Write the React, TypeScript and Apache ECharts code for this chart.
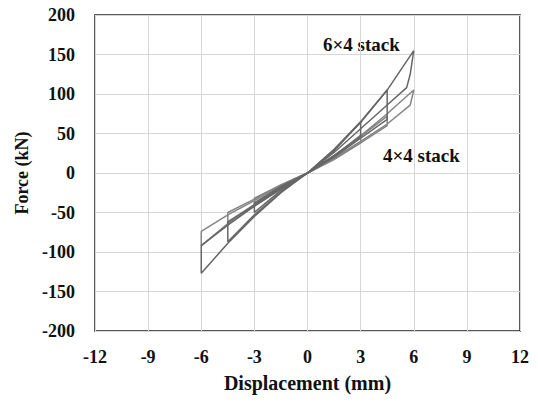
import React, { useEffect, useRef } from "react";
import * as echarts from "echarts";

const xTicks = [-12, -9, -6, -3, 0, 3, 6, 9, 12];
const yTicks = [-200, -150, -100, -50, 0, 50, 100, 150, 200];

// 6x4 stack loops (displacement mm, force kN)
const s64_a3 = [[0, 0], [1.5, 28], [3, 65], [3, 46], [1.5, 22], [0, 0], [-1.5, -22], [-3, -50], [-3, -38], [-1.5, -17], [0, 0]];
const s64_a45 = [[0, 0], [1.5, 29], [3, 64], [4.5, 105], [4.5, 68], [3, 44], [1.5, 20], [0, 0], [-1.5, -24], [-3, -53], [-4.5, -87], [-4.5, -62], [-3, -40], [-1.5, -19], [0, 0]];
const s64_a6 = [[0, 0], [1.5, 30], [3, 65], [4.5, 105], [6, 155], [5.8, 125], [5.6, 108], [4.5, 86], [3, 56], [1.5, 26], [0, 0], [-1.5, -25], [-3, -55], [-4.5, -89], [-6, -127], [-6, -92], [-4.5, -66], [-3, -42], [-1.5, -20], [0, 0]];
// 4x4 stack loops
const s44_a3 = [[0, 0], [1.5, 21], [3, 48], [3, 38], [1.5, 17], [0, 0], [-1.5, -18], [-3, -40], [-3, -32], [-1.5, -15], [0, 0]];
const s44_a45 = [[0, 0], [1.5, 22], [3, 46], [4.5, 72], [4.5, 60], [3, 38], [1.5, 18], [0, 0], [-1.5, -19], [-3, -41], [-4.5, -63], [-4.5, -50], [-3, -33], [-1.5, -15], [0, 0]];
const s44_a6 = [[0, 0], [1.5, 22], [3, 47], [4.5, 75], [6, 105], [5.8, 86], [4.5, 62], [3, 40], [1.5, 19], [0, 0], [-1.5, -20], [-3, -42], [-4.5, -64], [-6, -92], [-6, -74], [-4.5, -53], [-3, -35], [-1.5, -16], [0, 0]];

const loops6x4 = [s64_a3, s64_a45, s64_a6];
const loops4x4 = [s44_a3, s44_a45, s44_a6];

export default function App() {
  const ref = useRef<HTMLDivElement>(null);
  useEffect(() => {
    if (!ref.current) return;
    const chart = echarts.init(ref.current, null, { renderer: "svg" });
    const font = "Liberation Serif";
    const mk = (data: number[][], color: string, i: number, name: string) => ({
      type: "line",
      name: name + i,
      data,
      showSymbol: false,
      symbol: "none",
      lineStyle: { color, width: 1.5 },
      z: 3,
    });
    chart.setOption({
      animation: false,
      grid: { left: 95, right: 18, top: 15, bottom: 75, show: true, borderColor: "#222", borderWidth: 1.5, backgroundColor: "transparent" },
      xAxis: {
        type: "value",
        min: -12,
        max: 12,
        interval: 3,
        name: "Displacement (mm)",
        nameLocation: "middle",
        nameGap: 42,
        nameTextStyle: { fontFamily: font, fontWeight: "bold", fontSize: 20, color: "#111" },
        axisLine: { show: false },
        axisTick: { show: false },
        axisLabel: { fontFamily: font, fontWeight: "bold", fontSize: 18, color: "#111", margin: 17 },
        splitLine: { show: true, lineStyle: { color: "#d6d6d6", width: 1 } },
      },
      yAxis: {
        type: "value",
        min: -200,
        max: 200,
        interval: 50,
        name: "Force (kN)",
        nameLocation: "middle",
        nameGap: 64,
        nameTextStyle: { fontFamily: font, fontWeight: "bold", fontSize: 18, color: "#111" },
        axisLine: { show: false },
        axisTick: { show: false },
        axisLabel: { fontFamily: font, fontWeight: "bold", fontSize: 18, color: "#111", margin: 20 },
        splitLine: { show: true, lineStyle: { color: "#d6d6d6", width: 1 } },
      },
      series: [
        ...loops4x4.map((d, i) => mk(d, "#858585", i, "4x4")),
        ...loops6x4.map((d, i) => mk(d, "#666666", i, "6x4")),
      ],
      graphic: [
        { type: "text", left: 323, top: 35, style: { text: "6×4 stack", font: `bold 19px ${font}`, fill: "#111" } },
        { type: "text", left: 383, top: 146, style: { text: "4×4 stack", font: `bold 19px ${font}`, fill: "#111" } },
      ],
    });
    return () => chart.dispose();
  }, []);
  return <div ref={ref} style={{ width: 538, height: 406, position: "absolute", left: 0, top: 0, background: "#fff" }} />;
}
